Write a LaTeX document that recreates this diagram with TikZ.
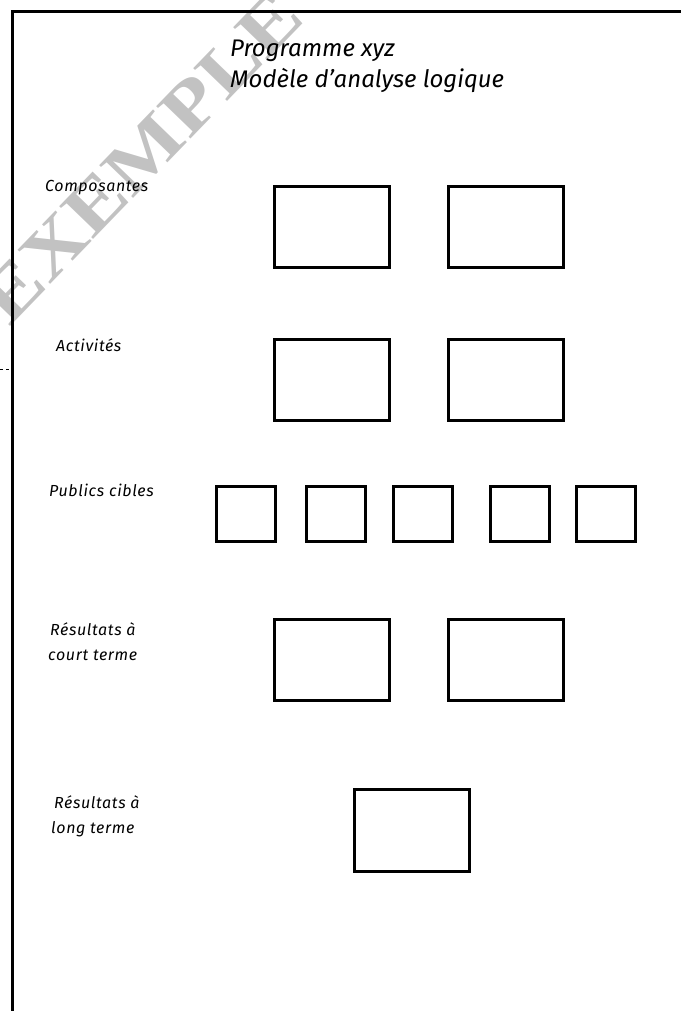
\documentclass[tikz,border=0pt]{standalone}
\usepackage{fontspec}
\setmainfont{Fira Sans}
\newfontfamily\wmfont{Liberation Serif}
\newfontfamily\lblfont[LetterSpace=4]{Fira Sans}
\begin{document}
\begin{tikzpicture}[x=1pt,y=-1pt,
  box/.style={draw=black,line width=3pt,inner sep=0pt,minimum width=115pt,minimum height=81pt},
  smallbox/.style={draw=black,line width=3pt,inner sep=0pt,minimum width=59pt,minimum height=55pt},
  lbl/.style={anchor=base west,inner sep=0pt,font=\lblfont\fontsize{16}{18}\selectfont\itshape},
  ttl/.style={anchor=base west,inner sep=0pt,font=\fontsize{24}{28}\selectfont\itshape},
  frame/.style={line width=3pt,black}]
\useasboundingbox (0,0) rectangle (681,1011);
\begin{scope}
\clip (0,0) rectangle (681,1011);
\node[rotate=46,text=black!24,inner sep=0pt,font=\wmfont\bfseries\fontsize{72}{74}\selectfont] (wm) at (141,157) {\scalebox{1.2}[1]{EXEMPLE}};
\end{scope}
% frame
\coordinate (fb) at (12.5,1011);
\coordinate (fc) at (12.5,11.5);
\coordinate (fr) at (681,11.5);
\draw[frame] (fb) -- (fc) -- (fr);
\coordinate (dl) at (0,369);
\coordinate (dr) at (12.5,369);
\draw[dashed,line width=0.6pt] (dl) -- (dr);
% title
\node[ttl] (t1) at (230,57) {Programme xyz};
\node[ttl] (t2) at (230,88) {Modèle d’analyse logique};
% labels
\node[lbl] (l1) at (45,192) {Composantes};
\node[lbl] (l2) at (56,351) {Activités};
\node[lbl] (l3) at (49,496) {Publics cibles};
\node[lbl] (l4a) at (50,635) {Résultats à};
\node[lbl] (l4b) at (48,660) {court terme};
\node[lbl] (l5a) at (54,808) {Résultats à};
\node[lbl] (l5b) at (51,833) {long terme};
% boxes
\node[box] (c1) at (332,227) {};
\node[box] (c2) at (506,227) {};
\node[box] (a1) at (332,379.5) {};
\node[box] (a2) at (506,379.5) {};
\node[smallbox] (p1) at (246,513.5) {};
\node[smallbox] (p2) at (336.3,513.5) {};
\node[smallbox] (p3) at (423,513.5) {};
\node[smallbox] (p4) at (520,513.5) {};
\node[smallbox] (p5) at (606.3,513.5) {};
\node[box] (r1) at (332,659.5) {};
\node[box] (r2) at (506,659.5) {};
\node[box,minimum height=82pt] (r3) at (411.5,830.8) {};
\end{tikzpicture}
\end{document}
